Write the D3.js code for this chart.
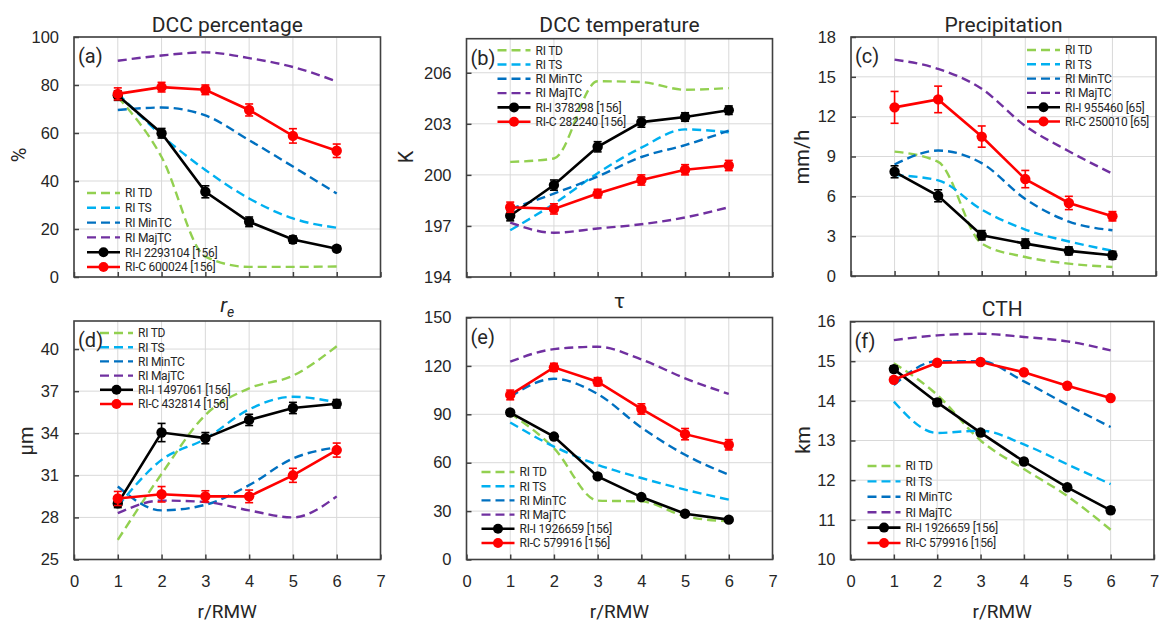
<!DOCTYPE html>
<html>
<head>
<meta charset="utf-8">
<script src="https://cdn.jsdelivr.net/npm/d3@7/dist/d3.min.js"></script>
<style>
  body { margin: 0; background: #fff; }
  svg { font-family: Roboto, "DejaVu Sans", sans-serif; }
</style>
</head>
<body>
<svg id="chart" width="1159" height="622"></svg>
<script>
// x positions (r/RMW)
const rRmw = [1, 2, 3, 4, 5, 6];
const xTicks = [0, 1, 2, 3, 4, 5, 6, 7];
const groupNames = ['RI TD', 'RI TS', 'RI MinTC', 'RI MajTC'];

// (a) DCC percentage
const pctTD = [75, 50, 8.5, 4.2, 4.2, 4.4];
const pctTS = [76.5, 59, 44.6, 32.7, 24.4, 20.5];
const pctMin = [69.6, 70.6, 67.3, 57, 46, 34.8];
const pctMaj = [90.1, 92.3, 93.6, 91.2, 87.5, 81.5];
const pctI = [75.6, 59.9, 35.5, 23, 15.6, 11.8];
const pctIErr = [2, 2, 2.5, 2, 1.5, 1.2];
const pctC = [76.3, 79.1, 78, 69.6, 58.8, 52.6];
const pctCErr = [2.5, 2, 2, 2.5, 3, 2.8];
const pctTicks = [0, 20, 40, 60, 80, 100];

// (b) DCC temperature
const tempTD = [200.76, 200.96, 205.5, 205.45, 205.0, 205.1];
const tempTS = [196.75, 198.3, 200.1, 201.6, 202.67, 202.5];
const tempMin = [198.0, 198.9, 199.9, 201.05, 201.75, 202.6];
const tempMaj = [197.2, 196.6, 196.85, 197.1, 197.5, 198.1];
const tempI = [197.6, 199.4, 201.65, 203.1, 203.4, 203.8];
const tempIErr = [0.3, 0.3, 0.3, 0.3, 0.25, 0.25];
const tempC = [198.1, 198.0, 198.9, 199.7, 200.3, 200.55];
const tempCErr = [0.3, 0.3, 0.25, 0.3, 0.3, 0.3];
const tempTicks = [194, 197, 200, 203, 206];

// (c) Precipitation
const preTD = [9.37, 8.6, 2.44, 1.43, 0.93, 0.68];
const preTS = [7.6, 7.2, 5.0, 3.5, 2.6, 1.9];
const preMin = [8.4, 9.45, 8.5, 5.8, 4.1, 3.45];
const preMaj = [16.3, 15.6, 14.1, 11.3, 9.4, 7.7];
const preI = [7.85, 6.04, 3.07, 2.44, 1.89, 1.56];
const preIErr = [0.45, 0.45, 0.35, 0.35, 0.3, 0.3];
const preC = [12.7, 13.3, 10.5, 7.3, 5.5, 4.5];
const preCErr = [1.2, 1.0, 0.8, 0.65, 0.5, 0.35];
const preTicks = [0, 3, 6, 9, 12, 15, 18];

// (d) r_e
const reTD = [26.4, 31.1, 35.3, 37.2, 38.1, 40.2];
const reTS = [28.8, 32.1, 33.6, 35.7, 36.6, 36.2];
const reMin = [30.2, 28.5, 28.9, 30.3, 32.2, 33.0];
const reMaj = [28.3, 29.2, 29.1, 28.5, 28.0, 29.5];
const reI = [29.0, 34.05, 33.65, 34.95, 35.8, 36.1];
const reIErr = [0.3, 0.65, 0.4, 0.4, 0.4, 0.3];
const reC = [29.35, 29.65, 29.5, 29.5, 31.0, 32.8];
const reCErr = [0.5, 0.55, 0.4, 0.45, 0.5, 0.5];
const reTicks = [25, 28, 31, 34, 37, 40];

// (e) tau
const tauTD = [90.7, 69, 36.5, 36, 26.8, 23.7];
const tauTS = [84.9, 70, 58.7, 50.5, 43.3, 37.1];
const tauMin = [101, 112, 102.6, 81.8, 64.9, 52.5];
const tauMaj = [122.6, 130.4, 131.9, 124, 112.3, 102.6];
const tauI = [91.1, 76.2, 51.5, 38.7, 28.4, 24.7];
const tauIErr = [1.5, 1.5, 1.5, 1.2, 1.2, 1.2];
const tauC = [102, 119.1, 110.2, 93.3, 77.7, 71.1];
const tauCErr = [3, 2.5, 2.5, 3.2, 3.5, 3.2];
const tauTicks = [0, 30, 60, 90, 120, 150];

// (f) CTH
const cthTD = [14.95, 14.15, 13.0, 12.28, 11.6, 10.75];
const cthTS = [13.98, 13.19, 13.25, 12.9, 12.4, 11.9];
const cthMin = [14.4, 15.0, 15.0, 14.49, 13.9, 13.34];
const cthMaj = [15.53, 15.65, 15.69, 15.61, 15.5, 15.27];
const cthI = [14.8, 13.96, 13.2, 12.47, 11.82, 11.24];
const cthIErr = [0.08, 0.08, 0.07, 0.07, 0.07, 0.08];
const cthC = [14.53, 14.96, 14.98, 14.72, 14.38, 14.07];
const cthCErr = [0.06, 0.05, 0.05, 0.05, 0.05, 0.05];
const cthTicks = [10, 11, 12, 13, 14, 15, 16];

const colors = ['#92d050', '#00b0f0', '#0070c0', '#7030a0'];
const colI = '#000000';
const colC = '#ff0000';
const frameColor = '#404040';
const textColor = '#262626';

const panels = [
  { id: 'a', title: 'DCC percentage', yLabel: '%', yLabelPos: [19, 155], domain: [0, 100], ticks: pctTicks,
    groups: [pctTD, pctTS, pctMin, pctMaj], ri: pctI, riErr: pctIErr, rc: pctC, rcErr: pctCErr,
    names: ['RI-I 2293104 [156]', 'RI-C 600024 [156]'],
    left: 74, width: 306.5, top: 37, bottom: 277, leg: [13, 156, 14.8], row: 0 },
  { id: 'b', title: 'DCC temperature', yLabel: 'K', yLabelPos: [406, 157], domain: [194, 208], ticks: tempTicks,
    groups: [tempTD, tempTS, tempMin, tempMaj], ri: tempI, riErr: tempIErr, rc: tempC, rcErr: tempCErr,
    names: ['RI-I 378298 [156]', 'RI-C 282240 [156]'],
    left: 466.5, width: 306, top: 38.7, bottom: 277, leg: [31, 11.5, 14.3], row: 0 },
  { id: 'c', title: 'Precipitation', yLabel: 'mm/h', yLabelPos: [802, 157], domain: [0, 18], ticks: preTicks,
    groups: [preTD, preTS, preMin, preMaj], ri: preI, riErr: preIErr, rc: preC, rcErr: preCErr,
    names: ['RI-I 955460 [65]', 'RI-C 250010 [65]'],
    left: 851, width: 305, top: 37, bottom: 276, leg: [176, 13, 14.3], row: 0 },
  { id: 'd', title: 'r', yLabel: 'μm', yLabelPos: [26, 441], domain: [25, 42], ticks: reTicks,
    groups: [reTD, reTS, reMin, reMaj], ri: reI, riErr: reIErr, rc: reC, rcErr: reCErr,
    names: ['RI-I 1497061 [156]', 'RI-C 432814 [156]'],
    left: 74, width: 306.5, top: 321, bottom: 559.5, leg: [26, 12, 14.2], row: 1, titleY: 312 },
  { id: 'e', title: 'τ', yLabel: '', yLabelPos: [0, 0], domain: [0, 150], ticks: tauTicks,
    groups: [tauTD, tauTS, tauMin, tauMaj], ri: tauI, riErr: tauIErr, rc: tauC, rcErr: tauCErr,
    names: ['RI-I 1926659 [156]', 'RI-C 579916 [156]'],
    left: 466.5, width: 306, top: 317.5, bottom: 559.5, leg: [15, 154.5, 14.2], row: 1, titleY: 308 },
  { id: 'f', title: 'CTH', yLabel: 'km', yLabelPos: [803, 440], domain: [10, 16], ticks: cthTicks,
    groups: [cthTD, cthTS, cthMin, cthMaj], ri: cthI, riErr: cthIErr, rc: cthC, rcErr: cthCErr,
    names: ['RI-I 1926659 [156]', 'RI-C 579916 [156]'],
    left: 850.5, width: 303.5, top: 321.5, bottom: 559.5, leg: [17, 144.5, 15.4], row: 1, titleY: 316 }
];

const svg = d3.select('#chart');

panels.forEach(p => {
  const x = d3.scaleLinear().domain([0, 7]).range([p.left, p.left + p.width]);
  const y = d3.scaleLinear().domain(p.domain).range([p.bottom, p.top]);
  const g = svg.append('g').attr('class', 'panel-' + p.id);

  // gridlines
  g.append('g').selectAll('line').data(xTicks).join('line')
    .attr('x1', d => x(d)).attr('x2', d => x(d))
    .attr('y1', p.top).attr('y2', p.bottom)
    .attr('stroke', '#d9d9d9').attr('stroke-width', 1);
  g.append('g').selectAll('line').data(p.ticks).join('line')
    .attr('x1', p.left).attr('x2', p.left + p.width)
    .attr('y1', d => y(d)).attr('y2', d => y(d))
    .attr('stroke', '#d9d9d9').attr('stroke-width', 1);

  // axes (inner ticks)
  const yAxis = g.append('g')
    .attr('transform', `translate(${p.left},0)`)
    .call(d3.axisLeft(y).tickValues(p.ticks).tickFormat(d3.format('d'))
      .tickSize(-5).tickSizeOuter(0).tickPadding(15));
  const xAxis = g.append('g')
    .attr('transform', `translate(0,${p.bottom})`)
    .call(d3.axisBottom(x).tickValues(xTicks).tickSize(-5).tickSizeOuter(0).tickPadding(16)
      .tickFormat(p.row === 1 ? d3.format('d') : ''));
  [yAxis, xAxis].forEach(ax => {
    ax.select('.domain').remove();
    ax.selectAll('line').attr('stroke', frameColor).attr('stroke-width', 1.5);
    ax.selectAll('text').attr('font-size', 16.5).attr('font-weight', 500).attr('fill', textColor);
  });

  // frame
  g.append('rect')
    .attr('x', p.left).attr('y', p.top)
    .attr('width', p.width).attr('height', p.bottom - p.top)
    .attr('fill', 'none').attr('stroke', frameColor).attr('stroke-width', 1.6);

  // dashed group lines
  const smooth = d3.line().x((d, i) => x(rRmw[i])).y(d => y(d)).curve(d3.curveMonotoneX);
  p.groups.forEach((vals, k) => {
    g.append('path').attr('d', smooth(vals))
      .attr('fill', 'none').attr('stroke', colors[k])
      .attr('stroke-width', 2.4).attr('stroke-dasharray', '9,5');
  });

  // solid lines with markers and error bars
  const straight = d3.line().x((d, i) => x(rRmw[i])).y(d => y(d));
  [[p.ri, p.riErr, colI], [p.rc, p.rcErr, colC]].forEach(([vals, errs, col]) => {
    g.append('path').attr('d', straight(vals))
      .attr('fill', 'none').attr('stroke', col).attr('stroke-width', 2.6);
    const eb = g.append('g');
    eb.selectAll('line.v').data(vals).join('line').attr('class', 'v')
      .attr('x1', (d, i) => x(rRmw[i])).attr('x2', (d, i) => x(rRmw[i]))
      .attr('y1', (d, i) => y(d - errs[i])).attr('y2', (d, i) => y(d + errs[i]))
      .attr('stroke', col).attr('stroke-width', 1.6);
    [-1, 1].forEach(s => {
      eb.selectAll('line.c' + (s + 1)).data(vals).join('line').attr('class', 'c' + (s + 1))
        .attr('x1', (d, i) => x(rRmw[i]) - 4).attr('x2', (d, i) => x(rRmw[i]) + 4)
        .attr('y1', (d, i) => y(d + s * errs[i])).attr('y2', (d, i) => y(d + s * errs[i]))
        .attr('stroke', col).attr('stroke-width', 1.6);
    });
    g.append('g').selectAll('circle').data(vals).join('circle')
      .attr('cx', (d, i) => x(rRmw[i])).attr('cy', d => y(d)).attr('r', 5.2)
      .attr('fill', col);
  });

  // legend
  const [ldx, ldy, lstep] = p.leg;
  const lg = g.append('g').attr('transform', `translate(${p.left + ldx},${p.top + ldy})`);
  const entries = groupNames.map((n, k) => ({ name: n, color: colors[k], dashed: true }))
    .concat([{ name: p.names[0], color: colI, dashed: false }, { name: p.names[1], color: colC, dashed: false }]);
  entries.forEach((e, i) => {
    const yy = i * lstep;
    lg.append('line').attr('x1', 0).attr('x2', 33).attr('y1', yy).attr('y2', yy)
      .attr('stroke', e.color).attr('stroke-width', e.dashed ? 2.4 : 2.6)
      .attr('stroke-dasharray', e.dashed ? '9,5' : null);
    if (!e.dashed) lg.append('circle').attr('cx', 16.5).attr('cy', yy).attr('r', 5).attr('fill', e.color);
    lg.append('text').attr('x', 38).attr('y', yy).attr('dy', '0.36em')
      .attr('font-size', 12).attr('letter-spacing', -0.25).attr('fill', textColor)
      .text(e.name);
  });

  // panel letter
  g.append('text').attr('x', p.left + 4).attr('y', p.top + 26)
    .attr('font-size', 20).attr('fill', textColor).text(`(${p.id})`);

  // title
  const t = g.append('text')
    .attr('x', p.left + p.width / 2)
    .attr('y', p.row === 0 ? 31.5 : p.titleY)
    .attr('text-anchor', 'middle').attr('font-size', 21).attr('font-weight', 400).attr('fill', textColor);
  if (p.id === 'd') {
    t.append('tspan').attr('font-style', 'italic').text('r');
    t.append('tspan').attr('font-style', 'italic').attr('font-size', 14).attr('dy', 5).text('e');
  } else {
    t.text(p.title);
  }

  // y label
  if (p.yLabel) {
    g.append('text')
      .attr('transform', `translate(${p.yLabelPos[0]},${p.yLabelPos[1]}) rotate(-90)`)
      .attr('text-anchor', 'middle').attr('dy', '0.35em')
      .attr('font-size', 20).attr('fill', textColor)
      .text(p.yLabel);
  }

  // x label
  if (p.row === 1) {
    g.append('text').attr('x', p.left + p.width / 2).attr('y', 618)
      .attr('text-anchor', 'middle').attr('font-size', 19).attr('fill', textColor)
      .text('r/RMW');
  }
});
</script>
</body>
</html>
